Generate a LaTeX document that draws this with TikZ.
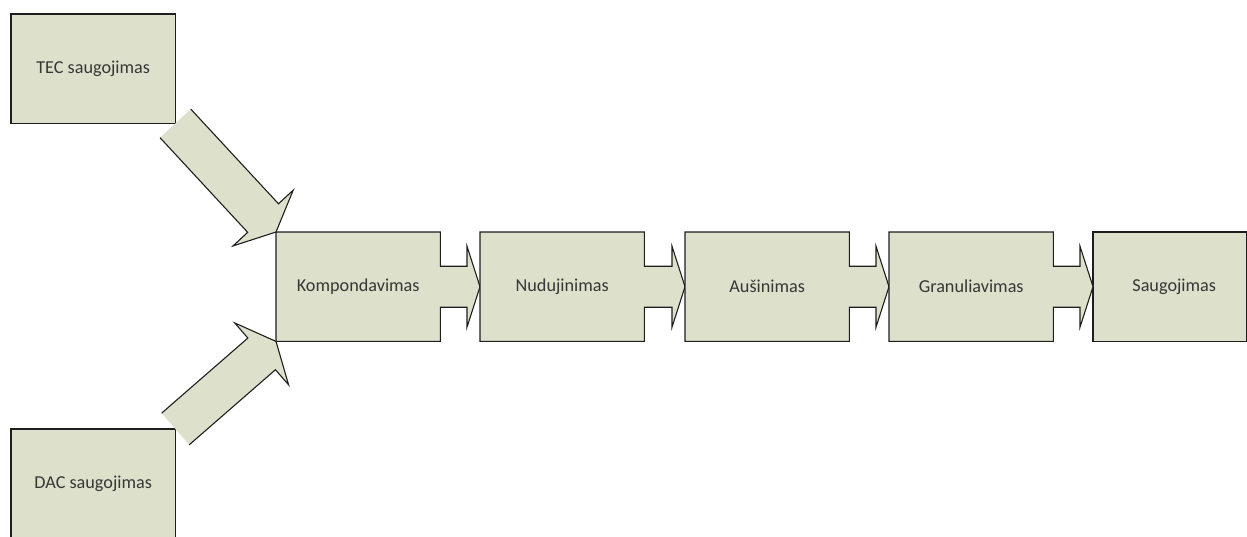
\documentclass[tikz,border=0pt]{standalone}
\usepackage{fontspec}
\setmainfont{Carlito}
\usetikzlibrary{calc,backgrounds}
\definecolor{boxfill}{RGB}{221,224,203}
\definecolor{boxline}{RGB}{30,30,30}
\definecolor{txt}{RGB}{55,55,55}
\tikzset{
  label text/.style={inner sep=0pt, minimum width=164pt, minimum height=109pt,
    anchor=north west, font=\fontsize{18.2pt}{21pt}\selectfont, text=txt},
  shapefill/.style={fill=boxfill, draw=none},
  shapeline/.style={draw=boxline, line width=1.1pt, line join=miter},
}
% block arrow from #1 to #2 (shaft half width 21, head half width 41, head length 19)
\newcommand{\blkarrow}[2]{%
  \coordinate (sp) at ($(#1)!21pt!90:(#2)$);
  \coordinate (sm) at ($(#1)!21pt!-90:(#2)$);
  \coordinate (ep) at ($(#2)!19pt!(#1)!21pt!-90:(#1)$);
  \coordinate (em) at ($(#2)!19pt!(#1)!21pt!90:(#1)$);
  \coordinate (hp) at ($(#2)!19pt!(#1)!41pt!-90:(#1)$);
  \coordinate (hm) at ($(#2)!19pt!(#1)!41pt!90:(#1)$);
  \path[shapefill] (sp) -- (ep) -- (hp) -- (#2) -- (hm) -- (em) -- (sm) -- cycle;
  \draw[shapeline] (sp) -- (ep) -- (hp) -- (#2) -- (hm) -- (em) -- (sm);
}
% box with chevron arrow to next box
\newcommand{\chevbox}[2]{%
  \path[shapefill] (#1.north west) -- (#1.north east) -- ($(#1.east)+(0,20.5pt)$)
    -- ($(#2.west)+(-13pt,20.5pt)$) -- ($(#2.west)+(-13pt,40.5pt)$) -- (#2.west)
    -- ($(#2.west)+(-13pt,-40.5pt)$) -- ($(#2.west)+(-13pt,-20.5pt)$)
    -- ($(#1.east)+(0,-20.5pt)$) -- (#1.south east) -- (#1.south west) -- cycle;
  \draw[shapeline] (#1.north west) -- (#1.north east) -- ($(#1.east)+(0,20.5pt)$)
    -- ($(#2.west)+(-13pt,20.5pt)$) -- ($(#2.west)+(-13pt,40.5pt)$) -- (#2.west)
    -- ($(#2.west)+(-13pt,-40.5pt)$) -- ($(#2.west)+(-13pt,-20.5pt)$)
    -- ($(#1.east)+(0,-20.5pt)$) -- (#1.south east) -- (#1.south west) -- cycle;
}
\begin{document}
\begin{tikzpicture}[x=1pt,y=-1pt]
\useasboundingbox (0,0) rectangle (1247,536);
\clip (0,0) rectangle (1247,536);
% text nodes
\node[label text] (TEC) at (11,14) {TEC saugojimas};
\node[label text] (DAC) at (11,429) {DAC saugojimas};
\node[label text] (K) at (276,232) {Kompondavimas};
\node[label text] (N) at (480,232) {Nudujinimas};
\node[label text] (A) at (685,232) {Aušinimas};
\node[label text] (G) at (889,232) {Granuliavimas};
\node[label text, minimum width=153pt] (S) at (1093,232) {\hspace*{9pt}Saugojimas};
\begin{scope}[on background layer]
  \foreach \b in {TEC,DAC,S}{
    \path[shapefill] (\b.north west) rectangle (\b.south east);
    \draw[shapeline] (\b.north west) rectangle (\b.south east);
  }
  \chevbox{K}{N}
  \chevbox{N}{A}
  \chevbox{A}{G}
  \chevbox{G}{S}
  \blkarrow{TEC.south east}{K.north west}
  \blkarrow{DAC.north east}{K.south west}
\end{scope}
\end{tikzpicture}
\end{document}
